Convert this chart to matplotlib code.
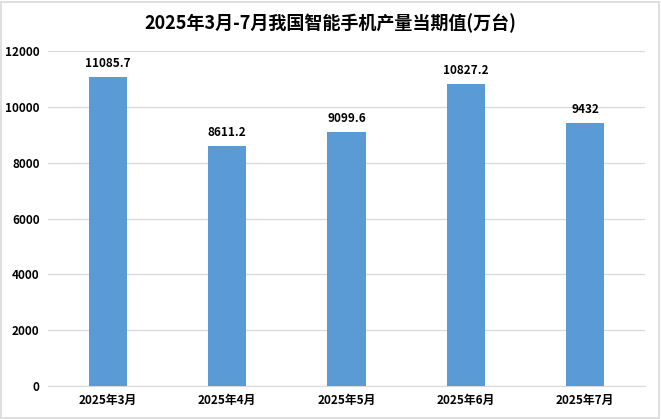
import matplotlib
matplotlib.use("Agg")
import matplotlib.pyplot as plt
from matplotlib.patches import Rectangle

plt.rcParams["font.family"] = ["Noto Sans CJK SC", "DejaVu Sans"]

TITLE = "2025年3月-7月我国智能手机产量当期值(万台)"
months = ["2025年3月", "2025年4月", "2025年5月", "2025年6月", "2025年7月"]
values = [11085.7, 8611.2, 9099.6, 10827.2, 9432]
labels = ["11085.7", "8611.2", "9099.6", "10827.2", "9432"]
yticks = [0, 2000, 4000, 6000, 8000, 10000, 12000]

BAR_COLOR = "#5B9BD5"

fig = plt.figure(figsize=(6.61, 4.19), dpi=100)
fig.patch.set_facecolor("white")
# thin light frame round the whole chart
fig.patches.append(Rectangle((0.002, 0.003), 0.995, 0.993, transform=fig.transFigure,
                             fill=False, edgecolor="#d9d9d9", linewidth=1.2))

ax = fig.add_axes([0.0726, 0.079, 0.903, 0.799])
x = range(len(months))
ax.bar(x, values, width=0.32, color=BAR_COLOR, zorder=3)

for xi, v, lab in zip(x, values, labels):
    ax.annotate(lab, (xi, v), xytext=(0, 5), textcoords="offset points",
                ha="center", va="bottom", fontsize=8.5, fontweight="bold", color="black")

ax.set_xlim(-0.5, len(months) - 0.5)
ax.set_ylim(0, 12000)
ax.set_yticks(yticks)
ax.set_yticklabels([str(t) for t in yticks], fontsize=8.5, fontweight="bold")
ax.set_xticks(list(x))
ax.set_xticklabels(months, fontsize=8.5, fontweight="bold")
ax.tick_params(length=0, pad=6)
ax.grid(axis="y", color="#d9d9d9", linewidth=0.9, zorder=0)
for side in ("top", "right", "left"):
    ax.spines[side].set_visible(False)
ax.spines["bottom"].set_color("#d9d9d9")

fig.text(0.5, 0.945, TITLE, ha="center", va="center", fontsize=13, fontweight="bold")

fig.savefig("out.png", dpi=100)
